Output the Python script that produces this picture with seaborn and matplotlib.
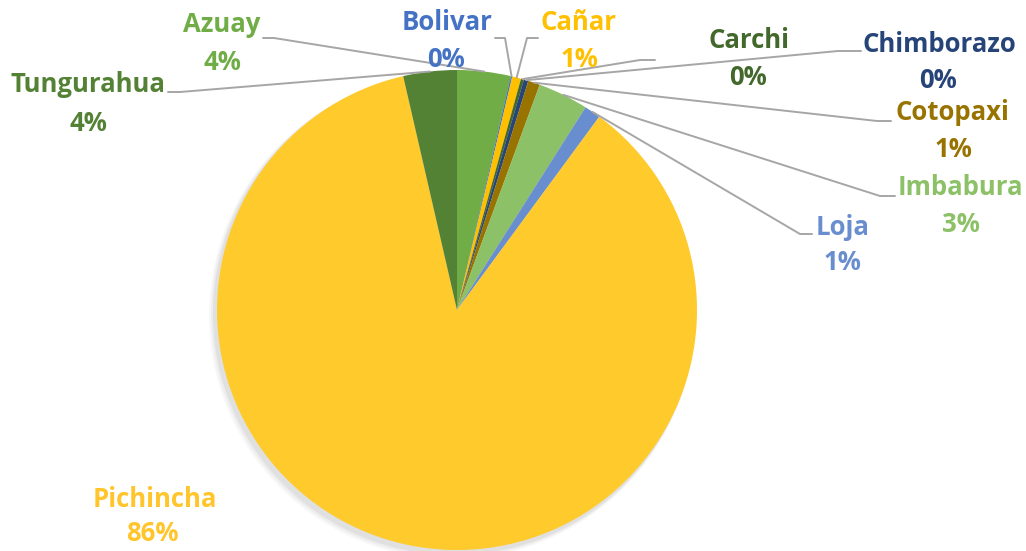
import matplotlib
matplotlib.use("Agg")
import matplotlib.pyplot as plt
import seaborn as sns
import numpy as np

# ---- data ----
provinces = ["Azuay", "Bolivar", "Cañar", "Carchi", "Chimborazo",
             "Cotopaxi", "Imbabura", "Loja", "Pichincha", "Tungurahua"]
shares = [3.6, 0.1, 0.6, 0.2, 0.3, 0.8, 3.4, 1.1, 86.3, 3.6]
pct_labels = ["4%", "0%", "1%", "0%", "0%", "1%", "3%", "1%", "86%", "4%"]

# ---- style ----
sns.set_theme(style="white")
plt.rcParams['font.family'] = ['Open Sans', 'DejaVu Sans']

slice_colors = ["#70AD47", "#4472C4", "#FFC000", "#43682B", "#264478",
                "#997300", "#8CC168", "#698ED0", "#FFCA2C", "#548235"]
text_colors = ["#70AD47", "#4472C4", "#FFC000", "#43682B", "#264478",
               "#997300", "#8CC168", "#698ED0", "#FFC52A", "#548235"]

# label layout in image pixel coords:
# (name center x, name baseline y, pct center x, pct baseline y, anchor, elbow)
layout = {
    "Azuay":      (222, 32, 222, 70, (263, 38), (274, 38)),
    "Bolivar":    (447, 30, 446, 67, (495, 38), (505, 38)),
    "Cañar":      (578, 30, 579, 67, (538, 38), (527, 38)),
    "Carchi":     (749, 48, 748, 85, (655, 60), (640, 60)),
    "Chimborazo": (939, 52, 938, 88, (861, 51), (838, 51)),
    "Cotopaxi":   (952, 120, 953, 157, (891, 121), (877, 121)),
    "Imbabura":   (960, 195, 961, 232, (895, 196), (880, 196)),
    "Loja":       (843, 235, 842, 270, (812, 234), (800, 234)),
    "Pichincha":  (155, 507, 152, 541, None, None),
    "Tungurahua": (88, 92, 88, 131, (168, 92), (180, 92)),
}

W, H = 1026, 551
fig = plt.figure(figsize=(W / 100, H / 100), dpi=100)
ax = fig.add_axes([0, 0, 1, 1])
cx, cy, R = 457, H - 310, 240

# soft shadow
for k, a in enumerate([0.05, 0.04, 0.03]):
    ax.add_patch(plt.Circle((cx - 3 - k, cy - 4 - k), R + 1 + k, color="black",
                            alpha=a, lw=0, zorder=0))

wedges, _ = ax.pie(shares, colors=slice_colors, startangle=90, counterclock=False,
                   center=(cx, cy), radius=R, wedgeprops=dict(linewidth=0))
for w in wedges:
    w.set_zorder(2)

ax.set_xlim(0, W)
ax.set_ylim(0, H)
ax.set_aspect('equal')
ax.axis('off')

fs = 18.5
for i, name in enumerate(provinces):
    tx, ty, px, py, anchor, elbow = layout[name]
    ax.text(tx, H - ty, name, ha="center", va="baseline", fontsize=fs,
            fontweight="bold", color=text_colors[i], zorder=5)
    ax.text(px, H - py, pct_labels[i], ha="center", va="baseline", fontsize=fs,
            fontweight="bold", color=text_colors[i], zorder=5)
    if anchor is not None:
        w = wedges[i]
        mid = np.deg2rad((w.theta1 + w.theta2) / 2)
        ex, ey = cx + R * np.cos(mid), cy + R * np.sin(mid)
        ax.plot([anchor[0], elbow[0], ex], [H - anchor[1], H - elbow[1], ey],
                color="#A6A6A6", lw=1.4, zorder=3, solid_capstyle="round")

fig.savefig("out.png", dpi=100, facecolor="white")
